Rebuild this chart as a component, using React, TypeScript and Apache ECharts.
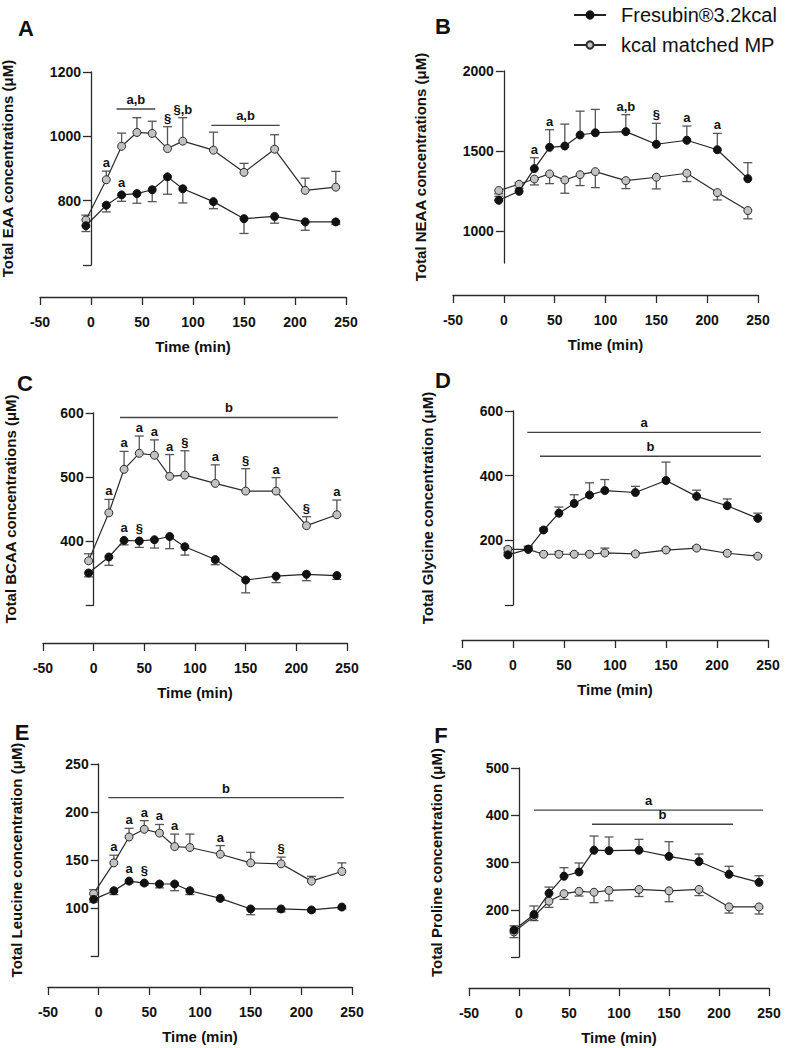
import React, { useEffect, useRef } from "react";
import * as echarts from "echarts";

// ---------- data ----------
const TIMES = [-5, 15, 30, 45, 60, 75, 90, 120, 150, 180, 210, 240];
const FRES = "Fresubin®3.2kcal";
const MP = "kcal matched MP";

// A: EAA
const eaaFres = [722, 786, 818, 822, 834, 874, 837, 797, 744, 751, 734, 734];
const eaaFresErr = [18, 21, 20, 30, 37, 54, 44, 22, 46, 21, 26, 8];
const eaaMp = [740, 865, 969, 1012, 1009, 962, 985, 957, 888, 960, 832, 842];
const eaaMpErr = [15, 27, 41, 46, 38, 68, 73, 56, 28, 45, 38, 49];
const eaaFresMarks = ["", "", "a", "", "", "", "", "", "", "", "", ""];
const eaaMpMarks = ["", "a", "", "", "", "§", "§,b", "", "", "", "", ""];
const eaaBars: [number, number, number, string][] = [
  [25, 63, 1085, "a,b"],
  [118, 185, 1034, "a,b"],
];

// B: NEAA
const neaaFres = [1192, 1248, 1390, 1523, 1531, 1600, 1614, 1621, 1542, 1567, 1508, 1327];
const neaaFresErr = [25, 55, 68, 110, 137, 149, 146, 106, 131, 89, 102, 100];
const neaaMp = [1253, 1292, 1325, 1357, 1319, 1352, 1371, 1315, 1336, 1361, 1240, 1128];
const neaaMpErr = [20, 25, 37, 61, 83, 68, 100, 50, 73, 52, 46, 52];
const neaaFresMarks = ["", "", "a", "a", "", "", "", "a,b", "§", "a", "a", ""];
const neaaMpMarks = ["", "", "", "", "", "", "", "", "", "", "", ""];
const neaaBars: [number, number, number, string][] = [];

// C: BCAA
const bcaaFres = [350, 375, 401, 400, 402, 407, 391, 371, 339, 345, 348, 346];
const bcaaFresErr = [6, 13, 7, 10, 13, 19, 13, 8, 20, 10, 10, 6];
const bcaaMp = [369, 444, 512, 537, 534, 501, 503, 490, 478, 478, 424, 441];
const bcaaMpErr = [11, 21, 28, 27, 24, 34, 38, 29, 35, 21, 14, 23];
const bcaaFresMarks = ["", "", "a", "§", "", "", "", "", "", "", "", ""];
const bcaaMpMarks = ["", "a", "a", "a", "a", "a", "§", "a", "§", "a", "§", "a"];
const bcaaBars: [number, number, number, string][] = [[26, 241, 593, "b"]];

// D: Glycine
const glyFres = [155, 173, 232, 284, 314, 340, 354, 348, 385, 336, 307, 268];
const glyFresErr = [8, 9, 6, 19, 27, 38, 34, 19, 57, 19, 21, 16];
const glyMp = [172, 172, 157, 157, 157, 157, 161, 158, 170, 176, 160, 151];
const glyMpErr = [6, 8, 5, 8, 5, 5, 15, 5, 5, 5, 5, 5];
const glyFresMarks = ["", "", "", "", "", "", "", "", "", "", "", ""];
const glyMpMarks = ["", "", "", "", "", "", "", "", "", "", "", ""];
const glyBars: [number, number, number, string][] = [
  [14, 243, 534, "a"],
  [26.5, 243, 460, "b"],
];

// E: Leucine
const leuFres = [109, 118, 128, 126, 125, 125, 118, 110, 99, 99, 98, 101];
const leuFresErr = [3, 4, 2, 2, 4, 7, 4, 2, 6, 3, 2, 2];
const leuMp = [115, 147, 174, 182, 178, 164, 163, 156, 147, 146, 128, 138];
const leuMpErr = [4, 8, 9, 9, 9, 13, 14, 9, 11, 7, 5, 9];
const leuFresMarks = ["", "", "a", "§", "", "", "", "", "", "", "", ""];
const leuMpMarks = ["", "a", "a", "a", "a", "a", "", "a", "", "§", "", ""];
const leuBars: [number, number, number, string][] = [[9.5, 242, 215, "b"]];

// F: Proline
const proFres = [157, 190, 235, 271, 280, 326, 325, 326, 313, 302, 275, 258];
const proFresErr = [9, 18, 13, 18, 19, 30, 29, 23, 31, 16, 17, 14];
const proMp = [153, 186, 218, 234, 239, 237, 241, 243, 240, 243, 206, 206];
const proMpErr = [12, 9, 13, 12, 10, 22, 22, 15, 23, 13, 13, 15];
const proFresMarks = ["", "", "", "", "", "", "", "", "", "", "", ""];
const proMpMarks = ["", "", "", "", "", "", "", "", "", "", "", ""];
const proBars: [number, number, number, string][] = [
  [15, 244, 411, "a"],
  [73, 214, 381, "b"],
];

const panels = [
  { letter: "A", yName: "Total EAA concentrations (μM)", yMin: 600, yMax: 1200, yTicks: [600, 800, 1000, 1200], yLabels: [800, 1000, 1200],
    fres: eaaFres, fresErr: eaaFresErr, fresDir: -1, mp: eaaMp, mpErr: eaaMpErr, mpDir: 1, fresMarks: eaaFresMarks, mpMarks: eaaMpMarks, bars: eaaBars },
  { letter: "B", yName: "Total NEAA concentrations (μM)", yMin: 800, yMax: 2000, yTicks: [1000, 1500, 2000], yLabels: [1000, 1500, 2000],
    fres: neaaFres, fresErr: neaaFresErr, fresDir: 1, mp: neaaMp, mpErr: neaaMpErr, mpDir: -1, fresMarks: neaaFresMarks, mpMarks: neaaMpMarks, bars: neaaBars },
  { letter: "C", yName: "Total BCAA concentrations (μM)", yMin: 300, yMax: 600, yTicks: [300, 400, 500, 600], yLabels: [400, 500, 600],
    fres: bcaaFres, fresErr: bcaaFresErr, fresDir: -1, mp: bcaaMp, mpErr: bcaaMpErr, mpDir: 1, fresMarks: bcaaFresMarks, mpMarks: bcaaMpMarks, bars: bcaaBars },
  { letter: "D", yName: "Total Glycine concentration (μM)", yMin: 0, yMax: 600, yTicks: [0, 200, 400, 600], yLabels: [200, 400, 600],
    fres: glyFres, fresErr: glyFresErr, fresDir: 1, mp: glyMp, mpErr: glyMpErr, mpDir: 1, fresMarks: glyFresMarks, mpMarks: glyMpMarks, bars: glyBars },
  { letter: "E", yName: "Total Leucine concentration (μM)", yMin: 50, yMax: 250, yTicks: [50, 100, 150, 200, 250], yLabels: [100, 150, 200, 250],
    fres: leuFres, fresErr: leuFresErr, fresDir: -1, mp: leuMp, mpErr: leuMpErr, mpDir: 1, fresMarks: leuFresMarks, mpMarks: leuMpMarks, bars: leuBars },
  { letter: "F", yName: "Total Proline concentration (μM)", yMin: 100, yMax: 500, yTicks: [100, 200, 300, 400, 500], yLabels: [200, 300, 400, 500],
    fres: proFres, fresErr: proFresErr, fresDir: 1, mp: proMp, mpErr: proMpErr, mpDir: -1, fresMarks: proFresMarks, mpMarks: proMpMarks, bars: proBars },
];

// ---------- layout ----------
const layouts = [
  { left: 40, top: 72, width: 306, height: 193, xOffset: 32, nameGap: 76, lx: 26, ly: 28 },
  { left: 453, top: 71, width: 305, height: 192, xOffset: 32, nameGap: 76, lx: 443, ly: 26 },
  { left: 43, top: 413, width: 304, height: 192, xOffset: 38, nameGap: 76, lx: 25, ly: 383 },
  { left: 462, top: 411, width: 306, height: 194, xOffset: 35, nameGap: 78, lx: 443, ly: 380 },
  { left: 48, top: 764, width: 304, height: 192, xOffset: 31, nameGap: 75, lx: 22, ly: 732 },
  { left: 469, top: 768, width: 300, height: 189, xOffset: 31, nameGap: 75, lx: 441, ly: 735 },
];

const FONT = '"Liberation Sans", Arial, Helvetica, sans-serif';
const AX = "#2a2a2a";
const ERR = "#555";
const X_MIN = -50;
const X_MAX = 250;

function buildOption() {
  const grid: any[] = [];
  const xAxis: any[] = [];
  const yAxis: any[] = [];
  const series: any[] = [];
  const graphic: any[] = [];

  panels.forEach((p, i) => {
    const L = layouts[i];
    // y axis sits at time 0: shift it into the grid by the width of the (-50..0) span
    const yShift = (L.width * (0 - X_MIN)) / (X_MAX - X_MIN);
    grid.push({ left: L.left, top: L.top, width: L.width, height: L.height, containLabel: false, outerBoundsMode: "none" });
    xAxis.push({
      gridIndex: i, type: "value", min: X_MIN, max: X_MAX, interval: 50, offset: L.xOffset,
      axisLine: { onZero: false, lineStyle: { color: AX, width: 1.3 } },
      axisTick: { length: 8, lineStyle: { color: AX, width: 1.3 } },
      axisLabel: { margin: 18, color: "#111", fontFamily: FONT, fontWeight: "bold", fontSize: 14, formatter: (v: number) => String(v) },
      splitLine: { show: false },
      name: "Time (min)", nameLocation: "middle", nameGap: 42, nameMoveOverlap: false,
      nameTextStyle: { color: "#111", fontFamily: FONT, fontWeight: "bold", fontSize: 15 },
    });
    yAxis.push({
      gridIndex: i, type: "value", min: p.yMin, max: p.yMax, offset: -yShift,
      axisLine: { show: true, onZero: false, lineStyle: { color: AX, width: 1.3 } },
      axisTick: { show: true, length: 8, customValues: p.yTicks, lineStyle: { color: AX, width: 1.3 } },
      axisLabel: { customValues: p.yLabels, margin: 10, color: "#111", fontFamily: FONT, fontWeight: "bold", fontSize: 14, formatter: (v: number) => String(v) },
      splitLine: { show: false },
      name: p.yName, nameLocation: "middle", nameGap: L.nameGap, nameMoveOverlap: false,
      nameTextStyle: { color: "#111", fontFamily: FONT, fontWeight: "bold", fontSize: 15 },
    });

    const errSeries = (vals: number[], errs: number[], dir: number) => ({
      type: "custom", xAxisIndex: i, yAxisIndex: i, z: 1, silent: true,
      data: TIMES.map((t, k) => [t, vals[k], vals[k] + dir * errs[k]]),
      renderItem: (_params: any, api: any) => {
        const p0 = api.coord([api.value(0), api.value(1)]);
        const p1 = api.coord([api.value(0), api.value(2)]);
        const st = { stroke: ERR, lineWidth: 1.3 };
        return {
          type: "group",
          children: [
            { type: "line", shape: { x1: p0[0], y1: p0[1], x2: p1[0], y2: p1[1] }, style: st },
            { type: "line", shape: { x1: p1[0] - 4.5, y1: p1[1], x2: p1[0] + 4.5, y2: p1[1] }, style: st },
          ],
        };
      },
    });
    series.push(errSeries(p.fres, p.fresErr, p.fresDir));
    series.push(errSeries(p.mp, p.mpErr, p.mpDir));

    series.push({
      name: FRES, type: "line", xAxisIndex: i, yAxisIndex: i, z: 3,
      data: TIMES.map((t, k) => [t, p.fres[k]]),
      symbol: "circle", symbolSize: 8,
      itemStyle: { color: "#111", borderColor: "#111", borderWidth: 1 },
      lineStyle: { color: "#222", width: 1.2 },
    });
    series.push({
      name: MP, type: "line", xAxisIndex: i, yAxisIndex: i, z: 2,
      data: TIMES.map((t, k) => [t, p.mp[k]]),
      symbol: "circle", symbolSize: 8,
      itemStyle: { color: "#c2c2c2", borderColor: "#2a2a2a", borderWidth: 1 },
      lineStyle: { color: "#2a2a2a", width: 1.2 },
    });

    const markEntries: { t: number; v: number; e: number; text: string }[] = [];
    const addMarks = (vals: number[], errs: number[], dir: number, marks: string[]) => {
      marks.forEach((m, k) => {
        if (m) markEntries.push({ t: TIMES[k], v: vals[k], e: vals[k] + dir * errs[k], text: m });
      });
    };
    addMarks(p.fres, p.fresErr, p.fresDir, p.fresMarks);
    addMarks(p.mp, p.mpErr, p.mpDir, p.mpMarks);
    if (markEntries.length) {
      series.push({
        type: "custom", xAxisIndex: i, yAxisIndex: i, z: 5, silent: true,
        data: markEntries.map((m) => [m.t, m.v, m.e]),
        renderItem: (params: any, api: any) => {
          const m = markEntries[params.dataIndex];
          const pv = api.coord([api.value(0), api.value(1)]);
          const pe = api.coord([api.value(0), api.value(2)]);
          const y = Math.min(pv[1] - 4, pe[1]) - 2;
          return {
            type: "text", x: pv[0], y,
            style: {
              text: m.text, fill: "#111", font: `bold 13px ${FONT}`,
              textAlign: "center", textVerticalAlign: "bottom", align: "center", verticalAlign: "bottom",
            },
          };
        },
      });
    }

    if (p.bars.length) {
      const bars = p.bars;
      series.push({
        type: "custom", xAxisIndex: i, yAxisIndex: i, z: 5, silent: true,
        data: bars.map((b) => [b[0], b[2], b[1]]),
        renderItem: (params: any, api: any) => {
          const b = bars[params.dataIndex];
          const p0 = api.coord([api.value(0), api.value(1)]);
          const p1 = api.coord([api.value(2), api.value(1)]);
          return {
            type: "group",
            children: [
              { type: "line", shape: { x1: p0[0], y1: p0[1], x2: p1[0], y2: p1[1] }, style: { stroke: "#444", lineWidth: 1.3 } },
              {
                type: "text", x: (p0[0] + p1[0]) / 2, y: p0[1] - 3,
                style: {
                  text: b[3], fill: "#111", font: `bold 13px ${FONT}`,
                  textAlign: "center", textVerticalAlign: "bottom", align: "center", verticalAlign: "bottom",
                },
              },
            ],
          };
        },
      });
    }

    graphic.push({
      type: "text", x: L.lx, y: L.ly,
      style: {
        text: p.letter, fill: "#111", font: `bold 22px ${FONT}`,
        textAlign: "center", textVerticalAlign: "middle", align: "center", verticalAlign: "middle",
      },
    });
  });

  return {
    animation: false,
    backgroundColor: "#fff",
    legend: {
      data: [FRES, MP], orient: "vertical", left: 568, top: 0,
      itemWidth: 32, itemHeight: 9, itemGap: 10,
      textStyle: { fontFamily: FONT, fontSize: 20, color: "#111", padding: [0, 0, 0, 10] },
      selectedMode: false,
    },
    grid, xAxis, yAxis, series, graphic,
  };
}

export default function App() {
  const ref = useRef<HTMLDivElement>(null);
  useEffect(() => {
    if (!ref.current) return;
    const chart = echarts.init(ref.current, undefined, { renderer: "svg" });
    chart.setOption(buildOption() as any);
    return () => chart.dispose();
  }, []);
  return (
    <div
      ref={ref}
      style={{ position: "fixed", left: 0, top: 0, width: 787, height: 1048, background: "#fff" }}
    />
  );
}
